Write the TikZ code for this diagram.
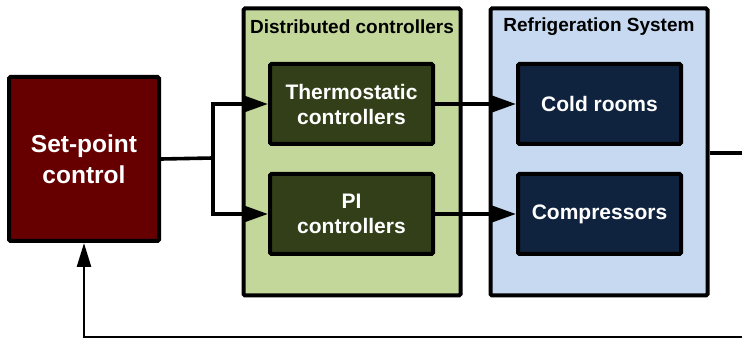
\documentclass[tikz,border=0pt]{standalone}
\usepackage{fontspec}
\setmainfont{Liberation Sans}
\usepackage{tikz}
\usetikzlibrary{arrows.meta}

\definecolor{setred}{HTML}{660000}
\definecolor{dcgreen}{HTML}{C4D79B}
\definecolor{dcdark}{HTML}{323F19}
\definecolor{rsblue}{HTML}{C6D9F1}
\definecolor{rsdark}{HTML}{10233E}

\begin{document}
\begin{tikzpicture}[x=1pt,y=-1pt]
	\tikzstyle{every node}=[font=\bfseries, align=center, inner sep=0pt]
	\tikzstyle{block}=[draw=black, line width=4pt, rounded corners=1.5pt, text=white]
	\tikzstyle{inner}=[block, minimum width=163pt, minimum height=80pt, font=\bfseries\fontsize{21}{25}\selectfont]
	\tikzstyle{group}=[draw=black, line width=4pt, rounded corners=1.5pt, minimum width=217pt, minimum height=287pt]
	\tikzstyle{conn}=[line width=3.6pt]
	\tikzstyle{tip}=[-{Triangle[length=24pt,width=16pt]}]
	
	\useasboundingbox (0,0) rectangle (742,339);
	
	% groups
	\node [group, fill=dcgreen] (dc) at (352,152) {};
	\node [font=\bfseries\fontsize{19}{22}\selectfont] (dctitle) at (352,27) {Distributed controllers};
	\node [group, fill=rsblue] (rs) at (599,152) {};
	\node [font=\bfseries\fontsize{19}{22}\selectfont] (rstitle) at (599,27) {Refrigeration System};
	
	% blocks
	\node [block, fill=setred, minimum width=150pt, minimum height=164pt,
	       font=\bfseries\fontsize{24.5}{31}\selectfont] (set) at (84,159) {Set-point\\control};
	\node [inner, fill=dcdark] (thermo) at (351.5,104) {Thermostatic\\controllers};
	\node [inner, fill=dcdark] (pi) at (351.5,214) {PI\\controllers};
	\node [inner, fill=rsdark] (cold) at (599.5,104) {Cold rooms};
	\node [inner, fill=rsdark] (comp) at (599.5,214) {Compressors};
	
	\coordinate (split) at (213,158);
	\coordinate (out) at (742,153);
	\coordinate (fb) at (742,337);
	
	% connectors
	\draw [conn] (set.east) -- (split);
	\draw [conn, tip] (split) |- (thermo.west);
	\draw [conn, tip] (split) |- (pi.west);
	\draw [conn, tip] (thermo.east) -- (cold.west);
	\draw [conn, tip] (pi.east) -- (comp.west);
	\draw [conn] (rs.east |- out) -- (out);
	\draw [line width=2.6pt, -{Triangle[length=24pt,width=14pt]}] (fb) -| (set.south);
	
\end{tikzpicture}
\end{document}
